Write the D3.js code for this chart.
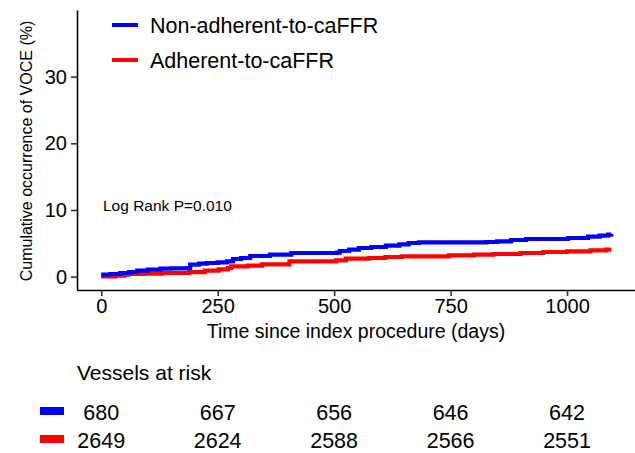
<!DOCTYPE html>
<html>
<head>
<meta charset="utf-8">
<script src="https://cdn.jsdelivr.net/npm/d3@7"></script>
<style>
  body { margin: 0; background: #fff; }
  text { font-family: "Liberation Sans", Arial, sans-serif; fill: #000; }
</style>
</head>
<body>
<div id="visual"></div>
<script>
var w = 635, h = 453;

// step curves (days, cumulative %)
var groups = ["Non-adherent-to-caFFR", "Adherent-to-caFFR"];
var colors = ["#0000ff", "#ff0000"];
var blueDays = [0, 20, 41, 60, 77, 100, 127, 150, 184, 191, 210, 227, 250, 270, 283, 300, 320, 362, 408, 506, 512, 532, 553, 580, 611, 640, 660, 682, 827, 850, 880, 912, 1002, 1045, 1070, 1088, 1095];
var blueVals = [0.3, 0.4, 0.55, 0.7, 0.9, 1.05, 1.2, 1.25, 1.3, 1.8, 1.95, 2.05, 2.15, 2.3, 2.65, 2.8, 3.1, 3.3, 3.55, 3.6, 3.85, 4.05, 4.3, 4.45, 4.65, 4.85, 5.05, 5.15, 5.2, 5.3, 5.5, 5.65, 5.8, 6.0, 6.15, 6.3, 6.4];
var redDays = [0, 30, 49, 58, 90, 130, 188, 222, 252, 272, 279, 314, 345, 404, 504, 525, 575, 610, 645, 746, 800, 842, 900, 949, 1000, 1050, 1083, 1095];
var redVals = [0.05, 0.15, 0.3, 0.4, 0.45, 0.55, 0.68, 0.9, 1.1, 1.3, 1.55, 1.65, 1.85, 2.3, 2.45, 2.7, 2.8, 2.95, 3.05, 3.2, 3.3, 3.4, 3.55, 3.7, 3.8, 3.95, 4.05, 4.05];

var xTicks = [0, 250, 500, 750, 1000];
var yTicks = [0, 10, 20, 30];
var riskBlue = [680, 667, 656, 646, 642];
var riskRed = [2649, 2624, 2588, 2566, 2551];

var svg = d3.select("#visual").append("svg")
  .attr("width", w)
  .attr("height", h);

var x = d3.scaleLinear().domain([-52, 1148]).range([77, 636]);
var y = d3.scaleLinear().domain([-2, 40]).range([290, 10]);

// axes
var xAxis = svg.append("g")
  .attr("transform", "translate(0,290)")
  .call(d3.axisBottom(x).tickValues(xTicks).tickFormat(d3.format("d"))
    .tickSize(6).tickPadding(3).tickSizeOuter(0));
var yAxis = svg.append("g")
  .attr("transform", "translate(77,0)")
  .call(d3.axisLeft(y).tickValues(yTicks).tickFormat(d3.format("d"))
    .tickSize(6).tickPadding(4).tickSizeOuter(0));

[xAxis, yAxis].forEach(function(a){
  a.select(".domain").attr("stroke", "#000").attr("stroke-width", 1.6);
  a.selectAll(".tick line").attr("stroke", "#333").attr("stroke-width", 1.6);
  a.selectAll(".tick text")
    .style("font-family", '"Liberation Sans", Arial, sans-serif')
    .style("font-size", "20px")
    .attr("fill", "#000");
});

svg.append("text")
  .attr("transform", "translate(32,151) rotate(-90)")
  .attr("text-anchor", "middle")
  .style("font-size", "16px")
  .text("Cumulative occurrence of VOCE (%)");

svg.append("text")
  .attr("x", 356)
  .attr("y", 338)
  .attr("text-anchor", "middle")
  .style("font-size", "19.5px")
  .text("Time since index procedure (days)");

svg.append("text")
  .attr("x", 103)
  .attr("y", 211)
  .style("font-size", "15.5px")
  .text("Log Rank P=0.010");

// curves
var line = d3.line()
  .x(function(d){ return x(d[0]); })
  .y(function(d){ return y(d[1]); })
  .curve(d3.curveStepAfter);

var series = [d3.zip(blueDays, blueVals), d3.zip(redDays, redVals)];

svg.selectAll(".km")
  .data([series[1], series[0]])
  .enter().append("path")
    .attr("class", "km")
    .attr("d", line)
    .attr("fill", "none")
    .attr("stroke", function(d, i){ return i == 0 ? colors[1] : colors[0]; })
    .attr("stroke-width", 4.2);

// legend
var legend = svg.selectAll(".legend")
  .data(groups)
  .enter().append("g")
    .attr("class", "legend")
    .attr("transform", function(d, i){ return "translate(0," + (25 + i * 35) + ")"; });

legend.append("line")
  .attr("x1", 112).attr("x2", 138)
  .attr("stroke", function(d, i){ return colors[i]; })
  .attr("stroke-width", 4);

legend.append("text")
  .attr("x", 150)
  .attr("y", 8)
  .style("font-size", "21.5px")
  .text(function(d){ return d; });

// risk table
svg.append("text")
  .attr("x", 77)
  .attr("y", 380)
  .style("font-size", "21px")
  .text("Vessels at risk");

var rows = [riskBlue, riskRed];
rows.forEach(function(r, i){
  var yy = 420 + i * 28;
  svg.append("rect")
    .attr("x", 40).attr("y", yy - 13)
    .attr("width", 24).attr("height", 8)
    .attr("fill", colors[i]);
  svg.selectAll(".risk" + i)
    .data(r)
    .enter().append("text")
      .attr("class", "risk" + i)
      .attr("x", function(d, j){ return x(xTicks[j]); })
      .attr("y", yy)
      .attr("text-anchor", "middle")
      .style("font-size", "21.5px")
      .text(function(d){ return d; });
});
</script>
</body>
</html>
